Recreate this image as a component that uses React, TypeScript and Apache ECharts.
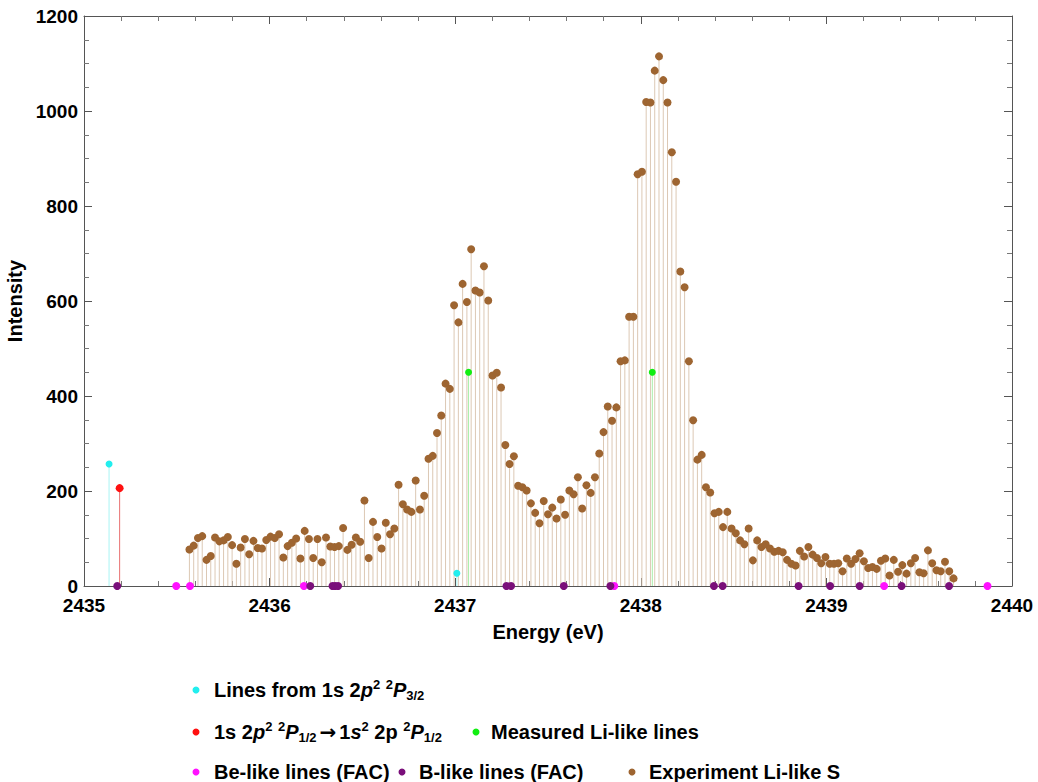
import React, { useEffect, useRef } from "react";
import * as echarts from "echarts";

// Experimental Li-like S spectrum (energy in eV, intensity)
const ENERGY = [
  2435.568, 2435.591, 2435.614, 2435.637, 2435.660, 2435.683, 2435.706, 2435.729, 2435.752, 2435.775,
  2435.798, 2435.821, 2435.844, 2435.867, 2435.890, 2435.913, 2435.936, 2435.959, 2435.982, 2436.005,
  2436.028, 2436.051, 2436.074, 2436.097, 2436.120, 2436.143, 2436.166, 2436.189, 2436.212, 2436.235,
  2436.258, 2436.281, 2436.304, 2436.327, 2436.350, 2436.373, 2436.396, 2436.419, 2436.442, 2436.465,
  2436.488, 2436.511, 2436.534, 2436.557, 2436.580, 2436.603, 2436.626, 2436.649, 2436.672, 2436.695,
  2436.718, 2436.741, 2436.764, 2436.787, 2436.810, 2436.833, 2436.856, 2436.879, 2436.902, 2436.925,
  2436.948, 2436.971, 2436.994, 2437.017, 2437.040, 2437.063, 2437.086, 2437.109, 2437.132, 2437.155,
  2437.178, 2437.201, 2437.224, 2437.247, 2437.270, 2437.293, 2437.316, 2437.339, 2437.362, 2437.385,
  2437.408, 2437.431, 2437.454, 2437.477, 2437.500, 2437.523, 2437.546, 2437.569, 2437.592, 2437.615,
  2437.638, 2437.661, 2437.684, 2437.707, 2437.730, 2437.753, 2437.776, 2437.799, 2437.822, 2437.845,
  2437.868, 2437.891, 2437.914, 2437.937, 2437.960, 2437.983, 2438.006, 2438.029, 2438.052, 2438.075,
  2438.098, 2438.121, 2438.144, 2438.167, 2438.190, 2438.213, 2438.236, 2438.259, 2438.282, 2438.305,
  2438.328, 2438.351, 2438.374, 2438.397, 2438.420, 2438.443, 2438.466, 2438.489, 2438.512, 2438.535,
  2438.558, 2438.581, 2438.604, 2438.627, 2438.650, 2438.673, 2438.696, 2438.719, 2438.742, 2438.765,
  2438.788, 2438.811, 2438.834, 2438.857, 2438.880, 2438.903, 2438.926, 2438.949, 2438.972, 2438.995,
  2439.018, 2439.041, 2439.064, 2439.087, 2439.110, 2439.133, 2439.156, 2439.179, 2439.202, 2439.225,
  2439.248, 2439.271, 2439.294, 2439.317, 2439.340, 2439.363, 2439.386, 2439.409, 2439.432, 2439.455,
  2439.478, 2439.501, 2439.524, 2439.547, 2439.570, 2439.593, 2439.616, 2439.639, 2439.662, 2439.685,
];
const INTENSITY = [
  77, 85, 101, 105, 55, 63, 102, 94, 96, 103,
  86, 47, 81, 99, 67, 95, 80, 79, 97, 104,
  101, 109, 60, 84, 91, 100, 58, 116, 99, 59,
  99, 50, 102, 83, 82, 84, 122, 76, 87, 102,
  93, 180, 59, 135, 103, 79, 133, 109, 121, 213,
  172, 161, 156, 222, 161, 190, 268, 274, 322, 359,
  426, 415, 591, 555, 636, 598, 709, 622, 618, 673,
  601, 443, 449, 418, 297, 257, 273, 211, 208, 201,
  174, 154, 132, 179, 151, 165, 142, 182, 150, 201,
  193, 229, 163, 212, 196, 229, 279, 324, 378, 348,
  376, 473, 475, 567, 567, 867, 872, 1019, 1018, 1085,
  1115, 1065, 1018, 913, 851, 662, 629, 473, 349, 266,
  276, 208, 197, 153, 156, 124, 156, 121, 111, 96,
  88, 121, 54, 96, 82, 88, 79, 72, 74, 71,
  55, 47, 43, 74, 62, 82, 66, 59, 48, 61,
  47, 47, 48, 31, 58, 47, 57, 69, 52, 38,
  40, 36, 53, 58, 22, 55, 30, 44, 26, 48,
  59, 29, 27, 75, 48, 33, 31, 51, 31, 16,
];

// Lines from 1s 2p^2 2P3/2
const P32_E = [2435.135, 2437.009];
const P32_I = [257, 27];
// 1s 2p^2 2P1/2 -> 1s^2 2p 2P1/2
const P12_E = [2435.192];
const P12_I = [206];
// Measured Li-like lines
const MEAS_E = [2437.072, 2438.062];
const MEAS_I = [450, 450];
// Be-like lines (FAC)
const BE_E = [2435.497, 2435.571, 2436.185, 2437.857, 2439.311, 2439.868];
const BE_I = [0, 0, 0, 0, 0, 0];
// B-like lines (FAC)
const B_E = [
  2435.179, 2436.219, 2436.339, 2436.353, 2436.369, 2437.276, 2437.301, 2437.585,
  2437.836, 2438.394, 2438.441, 2438.850, 2439.020, 2439.179, 2439.405, 2439.661,
];
const B_I = [0, 0, 0, 0, 0, 0, 0, 0, 0, 0, 0, 0, 0, 0, 0, 0];

const X_MIN = 2435;
const X_MAX = 2440;
const Y_MIN = 0;
const Y_MAX = 1200;

const FONT = "'Liberation Sans', Arial, Helvetica, sans-serif";

const pairs = (xs: number[], ys: number[]) => xs.map((x, i) => [x, ys[i]]);

function stems(name: string, xs: number[], ys: number[], color: string) {
  return {
    name,
    type: "custom",
    data: pairs(xs, ys),
    encode: { x: 0, y: 1 },
    silent: true,
    z: 1,
    renderItem: (_params: any, api: any) => {
      const top = api.coord([api.value(0), api.value(1)]);
      const bot = api.coord([api.value(0), 0]);
      return {
        type: "line",
        shape: { x1: top[0], y1: top[1], x2: bot[0], y2: bot[1] },
        style: { stroke: color, lineWidth: 1 },
      };
    },
  };
}

function dots(name: string, xs: number[], ys: number[], color: string, size: number, z: number) {
  return {
    name,
    type: "scatter",
    data: pairs(xs, ys),
    symbol: "circle",
    symbolSize: size,
    itemStyle: { color, opacity: 1 },
    z,
    silent: true,
  };
}

const RICH = {
  sup: { fontSize: 13, fontWeight: "bold", fontFamily: FONT, verticalAlign: "top", lineHeight: 12, fill: "#000" },
  sub: { fontSize: 13, fontWeight: "bold", fontFamily: FONT, verticalAlign: "bottom", lineHeight: 12, fill: "#000" },
  i: { fontSize: 20, fontWeight: "bold", fontStyle: "italic", fontFamily: FONT, lineHeight: 24, fill: "#000" },
  ar: {
    fontSize: 20,
    fontWeight: "bold",
    fontFamily: "'DejaVu Sans', sans-serif",
    lineHeight: 24,
    padding: [0, 3, 0, 3],
    fill: "#000",
  },
};

function legendDot(x: number, y: number, color: string) {
  return { type: "circle", shape: { cx: x, cy: y, r: 3.5 }, style: { fill: color }, silent: true };
}
function legendText(x: number, y: number, text: string) {
  return {
    type: "text",
    x,
    y,
    silent: true,
    style: {
      text,
      fontSize: 20,
      fontWeight: "bold",
      fontFamily: FONT,
      fill: "#000",
      lineHeight: 24,
      align: "left",
      verticalAlign: "middle",
      rich: RICH,
    },
  };
}

const plain = (v: number) => String(v);

export default function App() {
  const ref = useRef<HTMLDivElement>(null);
  useEffect(() => {
    if (!ref.current) return;
    const chart = echarts.init(ref.current, undefined, { renderer: "svg" });
    const axisCommon = {
      type: "value",
      axisLine: { show: true, onZero: false, lineStyle: { color: "#555", width: 1 } },
      splitLine: { show: false },
      minorSplitLine: { show: false },
    };
    chart.setOption({
      animation: false,
      backgroundColor: "#fff",
      grid: { left: 84, right: 26, top: 16, bottom: 196, containLabel: false, outerBoundsMode: "none" },
      xAxis: [
        {
          ...axisCommon,
          position: "bottom",
          min: X_MIN,
          max: X_MAX,
          interval: 1,
          name: "Energy (eV)",
          nameLocation: "middle",
          nameGap: 36,
          nameTextStyle: { fontSize: 20, fontWeight: "bold", fontFamily: FONT, color: "#000" },
          axisTick: { show: true, inside: true, length: 8, lineStyle: { color: "#555" } },
          minorTick: { show: true, splitNumber: 5, length: 5, lineStyle: { color: "#777" } },
          axisLabel: {
            show: true,
            margin: 10,
            fontSize: 19,
            lineHeight: 18,
            fontWeight: "bold",
            fontFamily: FONT,
            color: "#000",
            formatter: plain,
          },
        },
        {
          ...axisCommon,
          position: "top",
          min: X_MIN,
          max: X_MAX,
          interval: 1,
          axisTick: { show: true, inside: true, length: 8, lineStyle: { color: "#555" } },
          minorTick: { show: true, splitNumber: 5, length: 5, lineStyle: { color: "#777" } },
          axisLabel: { show: false },
        },
      ],
      yAxis: [
        {
          ...axisCommon,
          position: "left",
          min: Y_MIN,
          max: Y_MAX,
          interval: 200,
          name: "Intensity",
          nameLocation: "middle",
          nameGap: 54,
          nameRotate: 90,
          nameTextStyle: { fontSize: 20, fontWeight: "bold", fontFamily: FONT, color: "#000" },
          axisTick: { show: true, inside: true, length: 8, lineStyle: { color: "#555" } },
          minorTick: { show: true, splitNumber: 4, length: 5, lineStyle: { color: "#777" } },
          axisLabel: {
            show: true,
            margin: 6,
            fontSize: 19,
            lineHeight: 18,
            fontWeight: "bold",
            fontFamily: FONT,
            color: "#000",
            formatter: plain,
          },
        },
        {
          ...axisCommon,
          position: "right",
          min: Y_MIN,
          max: Y_MAX,
          interval: 200,
          axisTick: { show: true, inside: true, length: 8, lineStyle: { color: "#555" } },
          minorTick: { show: true, splitNumber: 4, length: 5, lineStyle: { color: "#777" } },
          axisLabel: { show: false },
        },
      ],
      series: [
        stems("Experiment Li-like S stems", ENERGY, INTENSITY, "#dcc8b4"),
        stems("Lines from 1s 2p2 2P3/2 stems", P32_E, P32_I, "#a8f4f4"),
        stems("1s 2p2 2P1/2 stems", P12_E, P12_I, "#e87070"),
        stems("Measured Li-like lines stems", MEAS_E, MEAS_I, "#a8eea8"),
        dots("Experiment Li-like S", ENERGY, INTENSITY, "#9e6531", 8, 3),
        dots("Lines from 1s 2p2 2P3/2", P32_E, P32_I, "#22eeee", 7, 4),
        dots("1s 2p2 2P1/2", P12_E, P12_I, "#ff1010", 8, 4),
        dots("Measured Li-like lines", MEAS_E, MEAS_I, "#11ee11", 7, 4),
        dots("Be-like lines (FAC)", BE_E, BE_I, "#ff11ff", 8, 5),
        dots("B-like lines (FAC)", B_E, B_I, "#7a0f7a", 8, 5),
      ],
      graphic: [
        legendDot(196, 690, "#22eeee"),
        legendText(214, 690, "Lines from 1s 2{i|p}{sup|2} {sup|2}{i|P}{sub|3/2}"),
        legendDot(196, 732, "#ff1010"),
        legendText(214, 732, "1s 2{i|p}{sup|2} {sup|2}{i|P}{sub|1/2}{ar|→}1{i|s}{sup|2} 2p {sup|2}{i|P}{sub|1/2}"),
        legendDot(476, 732, "#11ee11"),
        legendText(491, 732, "Measured Li-like lines"),
        legendDot(196, 772, "#ff11ff"),
        legendText(214, 772, "Be-like lines (FAC)"),
        legendDot(402, 772, "#7a0f7a"),
        legendText(419, 772, "B-like lines (FAC)"),
        legendDot(632, 772, "#9e6531"),
        legendText(649, 772, "Experiment Li-like S"),
      ],
    });
    return () => chart.dispose();
  }, []);
  return (
    <div
      ref={ref}
      style={{ position: "absolute", left: 0, top: 0, width: 1038, height: 782, background: "#fff" }}
    />
  );
}
